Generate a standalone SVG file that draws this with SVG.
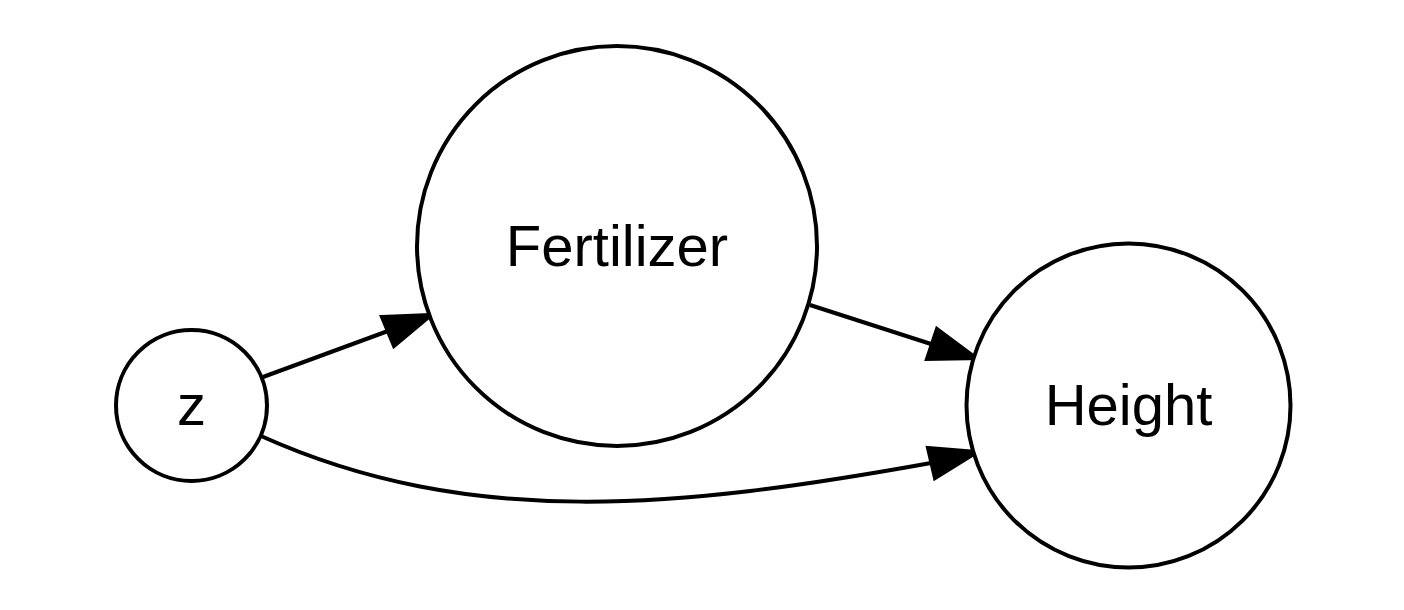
<svg xmlns="http://www.w3.org/2000/svg" width="1404" height="610" viewBox="0 0 1404 610">
<style>
.node{fill:#fff;stroke:#000;stroke-width:4}
.lbl{font-family:"Liberation Sans",Arial,Helvetica,sans-serif;font-size:58px;fill:#000;text-anchor:middle}
.edge{fill:none;stroke:#000;stroke-width:4}
.head{fill:#000;stroke:#000;stroke-width:4;stroke-linejoin:miter}
</style>
<rect width="1404" height="610" fill="#fff"/>
<g id="connectors">
<path class="edge" d="M263,377 L388,331"/>
<polygon class="head" points="382,317 431,315 394,346"/>
<path class="edge" d="M810,305 L931,344"/>
<polygon class="head" points="937,329 976,358 927,359"/>
<path class="edge" d="M261,436 C470,530 681,508 931,463"/>
<polygon class="head" points="928,448 977,452 935,478"/>
</g>
<g id="node-z">
<circle class="node" cx="191.5" cy="405.5" r="75.5"/>
<text class="lbl" x="191.5" y="425">z</text>
</g>
<g id="node-fertilizer">
<circle class="node" cx="617" cy="246" r="200"/>
<text class="lbl" x="617" y="266">Fertilizer</text>
</g>
<g id="node-height">
<circle class="node" cx="1128.5" cy="405.5" r="162"/>
<text class="lbl" x="1128.5" y="425">Height</text>
</g>
</svg>
